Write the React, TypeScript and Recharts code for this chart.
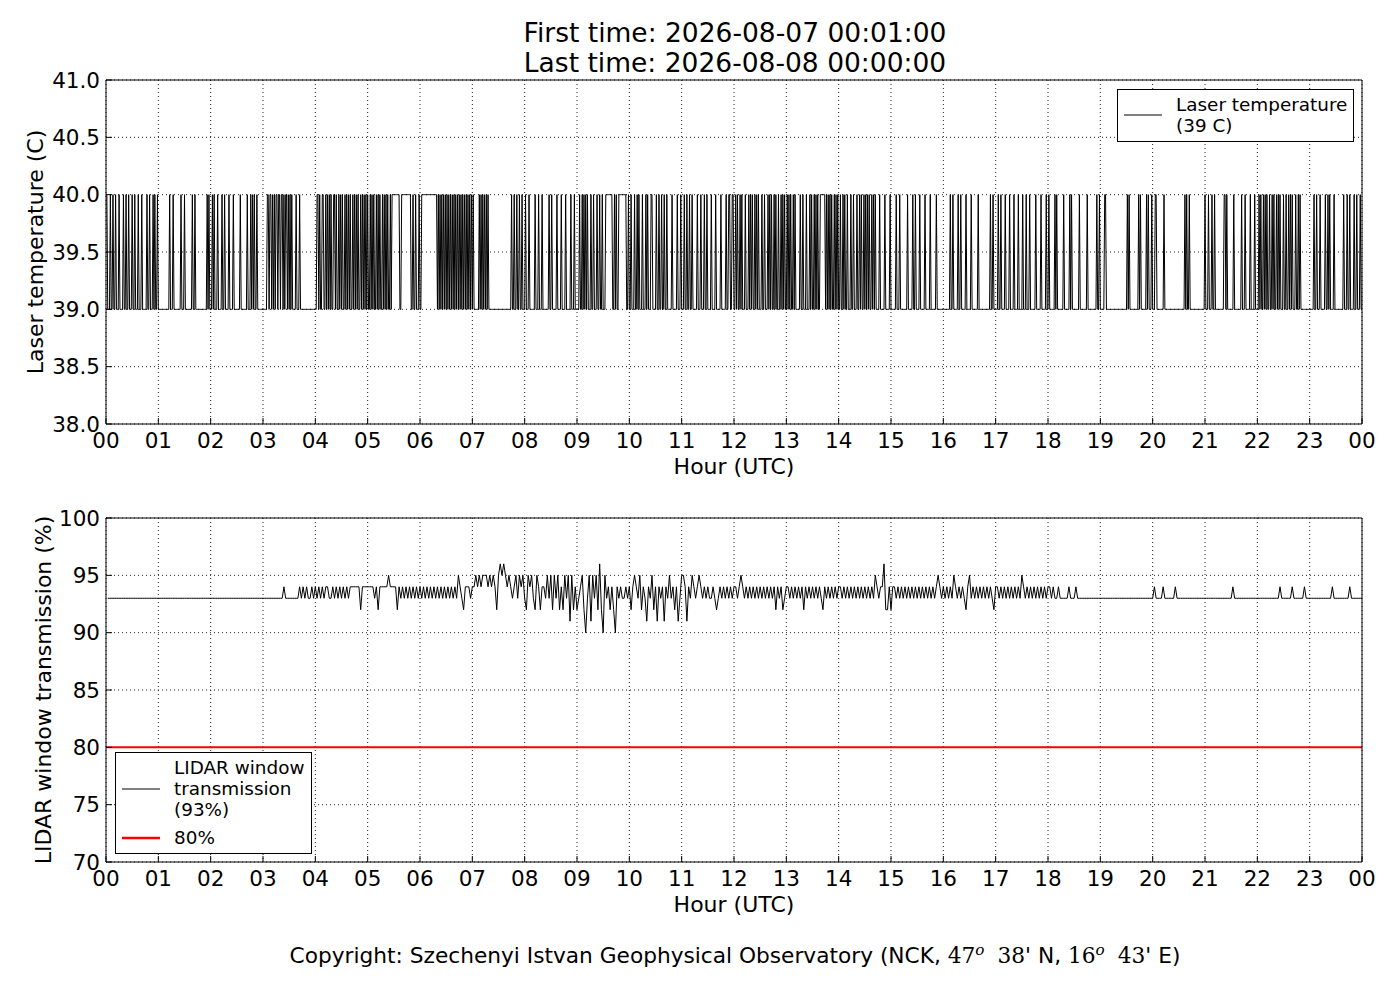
import React from 'react';
import {
  LineChart,
  Line,
  XAxis,
  YAxis,
  CartesianGrid,
  ReferenceLine,
  Legend,
} from 'recharts';

const FONT = '"DejaVu Sans", sans-serif';

const firstTime = '2026-08-07 00:01:00';
const lastTime = '2026-08-08 00:00:00';

const hourTicks = [0, 1, 2, 3, 4, 5, 6, 7, 8, 9, 10, 11, 12, 13, 14, 15, 16, 17, 18, 19, 20, 21, 22, 23, 24];
const tempTicks = [38, 38.5, 39, 39.5, 40, 40.5, 41];
const transTicks = [70, 75, 80, 85, 90, 95, 100];

// laser temperature: 39 C most of the time, single minutes read at 40 C
const laserLow = 39;
const laserHigh = 40;
const laserHighMinutes = [
  1, 5, 8, 11, 15, 20, 23, 26, 30, 33, 37, 41, 47, 50, 54, 56, 59,
  73, 77, 86, 90, 99, 102, 116, 118,
  122, 124, 128, 133, 136, 141, 146, 154, 162, 166, 168, 170, 173,
  185, 186, 188, 189, 191, 193, 195, 196, 198, 199, 201, 202, 204, 206, 207, 209, 211, 213, 218, 222,
  242, 243, 245, 248, 249, 252, 254, 256, 258, 261, 262, 264, 267, 269, 271, 274, 276, 278, 280, 283, 285, 287, 289, 292, 294, 296, 298,
  300, 303, 305, 307, 310, 312, 314, 317, 319, 321, 323, 326, 352, 355, 359,
  381, 383, 385, 387, 389, 391, 393, 395, 397, 399, 401, 403, 405, 407, 409, 411, 413, 415, 417, 419, 421,
  428, 430, 432, 434, 436, 438, 465, 468, 471, 474, 477,
  481, 485, 492, 496, 500, 508, 511, 517, 522, 527, 533, 537,
  543, 546, 548, 550, 552, 556, 559, 563, 566, 569, 583, 585, 599,
  602, 606, 609, 611, 615, 619, 621, 625, 626, 631, 634, 637, 640, 643, 649, 655, 659,
  663, 666, 669, 672, 678, 682, 686, 689, 694, 699, 705, 711, 714, 715, 718, 719,
  722, 724, 727, 729, 733, 737, 739, 741, 744, 746, 748, 752, 755, 759, 761, 763, 766, 768, 771, 774, 776, 778,
  781, 783, 785, 788, 790, 796, 799, 803, 807, 809, 812, 814, 816, 819, 826, 828, 830, 832, 835, 837, 839,
  842, 845, 847, 850, 854, 857, 861, 864, 866, 869, 871, 873, 875, 878, 880, 882, 887, 893, 899,
  906, 910, 919, 925, 928, 933, 939, 945, 952,
  968, 971, 977, 980, 986, 992, 1000, 1014, 1017,
  1023, 1026, 1031, 1036, 1041, 1046, 1051, 1055, 1059, 1066, 1072, 1078,
  1081, 1088, 1090, 1098, 1105, 1107, 1116, 1125, 1136, 1139,
  1145, 1146, 1171, 1173, 1184, 1186, 1193, 1195, 1199,
  1203, 1204, 1213, 1237, 1239, 1242,
  1260, 1264, 1268, 1271, 1282, 1283, 1285, 1293, 1302, 1306, 1312, 1317,
  1322, 1324, 1327, 1329, 1331, 1334, 1337, 1339, 1342, 1344, 1346, 1350, 1353, 1356, 1358, 1360, 1364, 1367, 1369,
  1385, 1388, 1392, 1398, 1401, 1403, 1408, 1419, 1423, 1426, 1431, 1434, 1438,
];
// longer stretches held at 40 C [first minute, last minute]
const laserHighRuns = [
  [328, 336],
  [339, 349],
  [362, 379],
  [573, 580],
  [588, 596],
  [820, 824],
];

// window transmission, one string per hour, one digit per 2 minutes (digit = % - 90)
const transmissionByHour = [
  '3333333333 3333333333 3333333333',
  '3333333333 3333333333 3333333333',
  '3333333333 3333333333 3333333333',
  '3333333333 3433333333 4343433434',
  '3434344334 3434343434 4444424444',
  '4443424444 4544442434 3434343434',
  '3434343434 3434343434 3543244434',
  '4545455545 4542565654 5434535453',
  '2545325424 4353525352 4253515242',
  '3452035153 5262053424 2043433434',
  '2454352431 4352414341 4353424135',
  '5414354345 4343433432 3434343434',
  '4345434343 4343434343 4342434234',
  '4343434342 4343434343 2434343434',
  '4343434343 4343434343 5434462242',
  '4434343434 3434343434 3434345434',
  '3434354343 4324534343 4343434324',
  '4343434343 4343543434 3434343434',
  '4343343333 3433343333 3333333333',
  '3333333333 3333333333 3333333333',
  '4333343333 3343333333 3333333333',
  '3333333333 3333343333 3333333333',
  '3333333333 3343333334 3333334333',
  '3333333333 3343333333 3343333333',
];
const transmissionLimit = 80;

const laserData = Array.from({ length: 1440 }, (_, i) => {
  const minute = i + 1;
  const high =
    laserHighMinutes.includes(minute) ||
    laserHighRuns.some(([a, b]) => minute >= a && minute <= b);
  return { hour: minute / 60, temp: high ? laserHigh : laserLow };
});

const transData = transmissionByHour.flatMap((row, h) =>
  row
    .replace(/\s/g, '')
    .split('')
    .map((d, i) => ({ hour: h + (2 * i + 2) / 60, pct: 90 + Number(d) }))
);

const hourLabel = (v: number) => String(v % 24).padStart(2, '0');

const tickStyle = { fill: '#000', fontSize: 21.5, fontFamily: FONT };

type LegendRow = { text: string[]; color: string; width: number };

const LegendBox = ({ rows, width }: { rows: LegendRow[]; width: number }) => (
  <div
    style={{
      width,
      boxSizing: 'border-box',
      border: '1px solid #000',
      background: '#fff',
      padding: '4px 0 5px 0',
      fontFamily: FONT,
      fontSize: 18.4,
      lineHeight: '21px',
      color: '#000',
      textAlign: 'left',
    }}
  >
    {rows.map((r, i) => (
      <div key={i} style={{ display: 'flex', alignItems: 'center', marginTop: i ? 7 : 0 }}>
        <svg width={50} height={12} style={{ flex: 'none' }}>
          <line x1={6} x2={44} y1={6} y2={6} stroke={r.color} strokeWidth={r.width} />
        </svg>
        <div style={{ marginLeft: 8, whiteSpace: 'nowrap' }}>
          {r.text.map((t, j) => (
            <div key={j}>{t}</div>
          ))}
        </div>
      </div>
    ))}
  </div>
);

const axisTitle = (text: string, dx: number) => (props: any) => {
  const vb = props.viewBox || { x: 0, y: 0, width: 0, height: 0 };
  const cx = vb.x + dx;
  const cy = vb.y + vb.height / 2;
  return (
    <text
      x={cx}
      y={cy}
      transform={`rotate(-90, ${cx}, ${cy})`}
      textAnchor="middle"
      dominantBaseline="central"
      fill="#000"
      fontSize={22}
      fontFamily={FONT}
    >
      {text}
    </text>
  );
};

const xTitle = (props: any) => {
  const vb = props.viewBox || { x: 0, y: 0, width: 0, height: 0 };
  return (
    <text
      x={vb.x + vb.width / 2}
      y={vb.y + 50}
      textAnchor="middle"
      fill="#000"
      fontSize={22}
      fontFamily={FONT}
    >
      Hour (UTC)
    </text>
  );
};

const Panel = ({
  data,
  dataKey,
  domain,
  ticks,
  tickFmt,
  yTitle,
  yTitleDx,
  legend,
  legendPos,
  limit,
}: any) => (
  <LineChart
    width={1400}
    height={480}
    data={data}
    margin={{ top: 79, right: 37, bottom: 0, left: 20 }}
  >
    <CartesianGrid
      stroke="#222"
      strokeWidth={1}
      strokeDasharray="1 3"
      horizontalValues={ticks}
      verticalValues={hourTicks}
    />
    <XAxis
      dataKey="hour"
      type="number"
      domain={[0, 24]}
      ticks={hourTicks}
      interval={0}
      allowDataOverflow
      tickFormatter={hourLabel}
      tick={tickStyle}
      tickSize={-6}
      tickMargin={15}
      height={56}
      stroke="#000"
      label={xTitle}
    />
    <XAxis
      xAxisId="top"
      orientation="top"
      type="number"
      domain={[0, 24]}
      ticks={hourTicks}
      interval={0}
      tick={false}
      tickSize={-6}
      height={1}
      stroke="#000"
    />
    <YAxis
      type="number"
      domain={domain}
      ticks={ticks}
      interval={0}
      allowDataOverflow
      tickFormatter={tickFmt}
      tick={tickStyle}
      tickSize={-6}
      tickMargin={12}
      width={86}
      stroke="#000"
      label={axisTitle(yTitle, yTitleDx)}
    />
    <YAxis
      yAxisId="right"
      orientation="right"
      type="number"
      domain={domain}
      ticks={ticks}
      interval={0}
      tick={false}
      tickSize={-6}
      width={1}
      stroke="#000"
    />
    {limit !== undefined && (
      <ReferenceLine y={limit} stroke="#ff0000" strokeWidth={2} ifOverflow="extendDomain" />
    )}
    <Line
      type="linear"
      dataKey={dataKey}
      stroke="#000"
      strokeWidth={1}
      dot={false}
      isAnimationActive={false}
    />
    <Legend
      layout="horizontal"
      verticalAlign="middle"
      align="center"
      content={() => <LegendBox rows={legend} width={legendPos.width} />}
      wrapperStyle={{ left: legendPos.left, top: legendPos.top, width: legendPos.width, height: 'auto' }}
    />
  </LineChart>
);

const deg = (d: string, m: string) => (
  <>
    <span style={{ fontFamily: '"DejaVu Serif", serif' }}>
      {d}
      <sup style={{ fontStyle: 'italic', fontSize: '0.7em' }}>o</sup>
    </span>
    <span style={{ fontFamily: '"DejaVu Serif", serif', marginLeft: 13 }}>{m}</span>'
  </>
);

const App = () => {
  return (
    <div
      style={{
        position: 'absolute',
        left: 0,
        top: 0,
        width: 1400,
        height: 1000,
        background: '#fff',
        fontFamily: FONT,
        color: '#000',
        overflow: 'hidden',
      }}
    >
      <div
        style={{
          position: 'absolute',
          left: 335,
          width: 800,
          top: 18,
          textAlign: 'center',
          fontSize: 26.5,
          lineHeight: '30px',
        }}
      >
        <div>First time: {firstTime}</div>
        <div>Last time: {lastTime}</div>
      </div>

      <div style={{ position: 'absolute', left: 0, top: 0 }}>
        <Panel
          data={laserData}
          dataKey="temp"
          domain={[38, 41]}
          ticks={tempTicks}
          tickFmt={(v: number) => v.toFixed(1)}
          yTitle="Laser temperature (C)"
          yTitleDx={15}
          legend={[{ text: ['Laser temperature', '(39 C)'], color: '#000', width: 1 }]}
          legendPos={{ left: 1117, top: 89, width: 237 }}
        />
      </div>

      <div style={{ position: 'absolute', left: 0, top: 438 }}>
        <Panel
          data={transData}
          dataKey="pct"
          domain={[70, 100]}
          ticks={transTicks}
          tickFmt={(v: number) => String(v)}
          yTitle="LIDAR window transmission (%)"
          yTitleDx={23}
          limit={transmissionLimit}
          legend={[
            { text: ['LIDAR window', 'transmission', '(93%)'], color: '#000', width: 1 },
            { text: ['80%'], color: '#ff0000', width: 2.5 },
          ]}
          legendPos={{ left: 115, top: 314, width: 197 }}
        />
      </div>

      <div
        style={{
          position: 'absolute',
          left: 0,
          width: 1470,
          top: 936,
          textAlign: 'center',
          fontSize: 21.7,
          lineHeight: '28px',
          whiteSpace: 'pre',
        }}
      >
        Copyright: Szechenyi Istvan Geophysical Observatory (NCK, {deg('47', '38')} N, {deg('16', '43')} E)
      </div>
    </div>
  );
};

export default App;
